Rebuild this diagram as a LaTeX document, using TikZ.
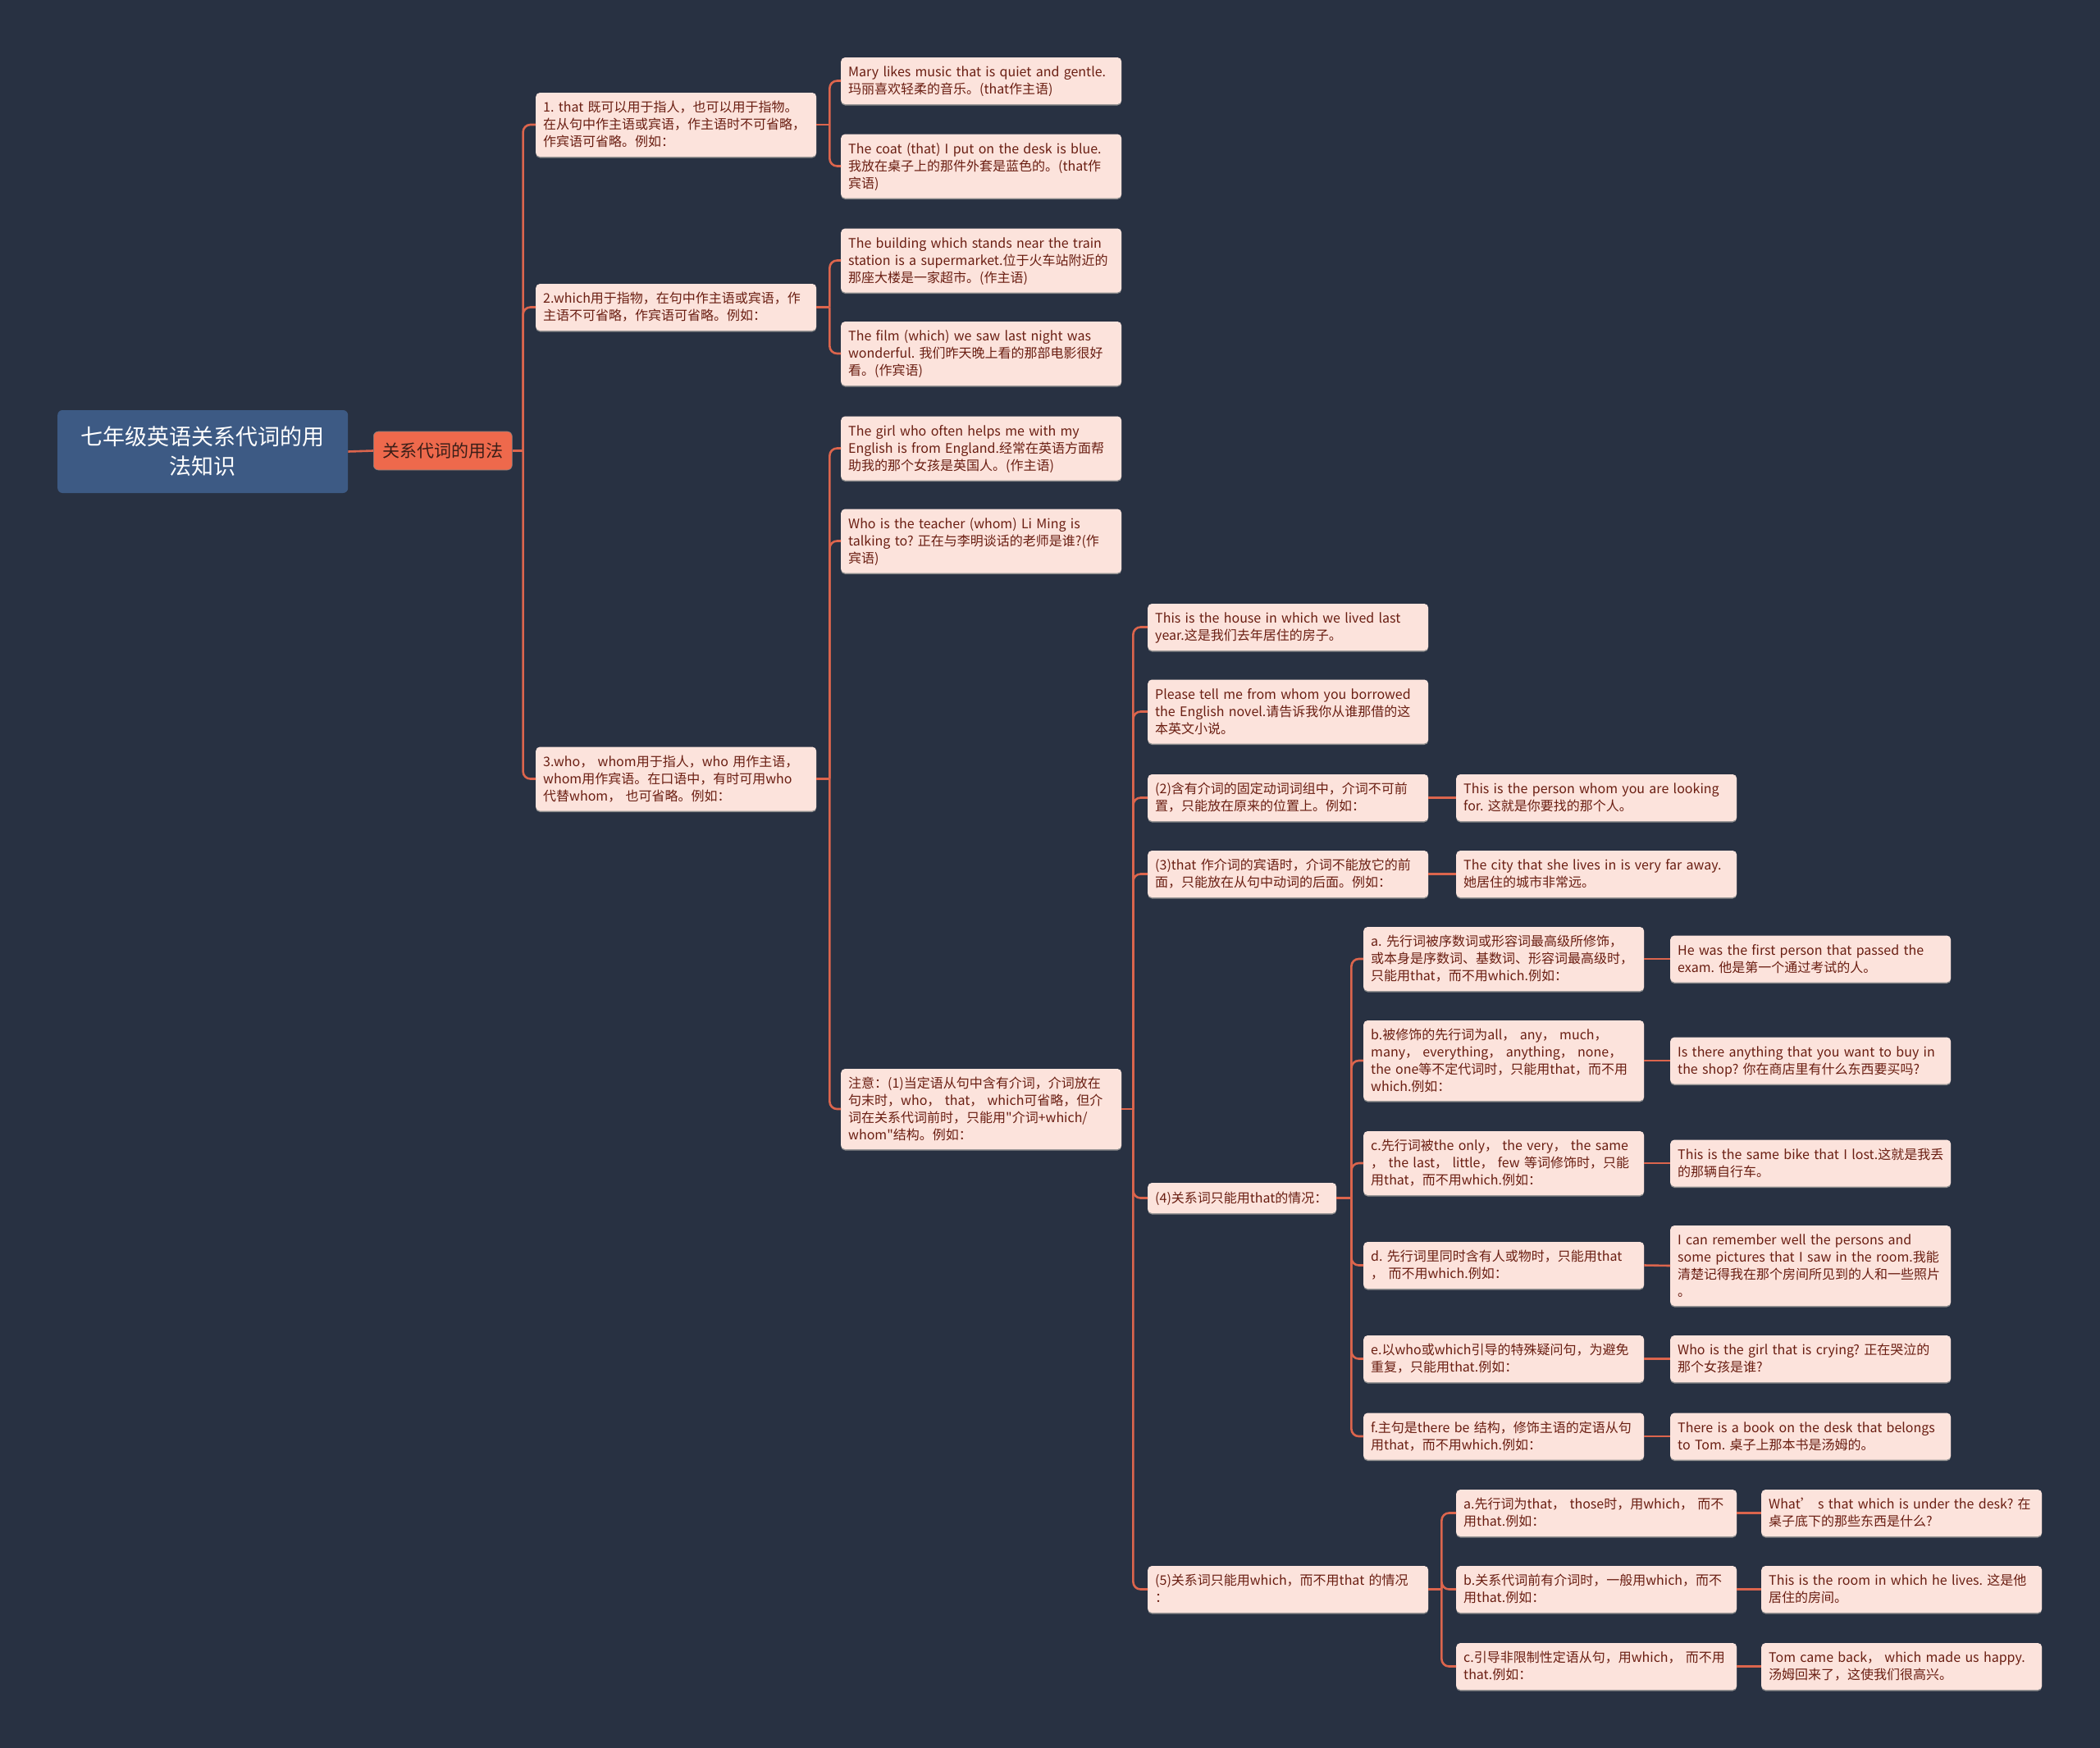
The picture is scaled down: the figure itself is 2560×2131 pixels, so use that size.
\documentclass[tikz,border=0pt]{standalone}
\usepackage{fontspec}
\setmainfont{Noto Sans CJK SC}[Ligatures=TeXOff]
\definecolor{bg}{HTML}{283142}
\definecolor{boxfill}{HTML}{FCE3DC}
\definecolor{boxtext}{HTML}{6A1E12}
\definecolor{conn}{HTML}{DC654D}
\definecolor{rootfill}{HTML}{3D5A84}
\definecolor{lonefill}{HTML}{EE694C}
\definecolor{lonetext}{HTML}{3A1E18}
\newcommand{\tb}[1]{\raisebox{-1.5pt}[\height][\depth]{\begin{tabular}{@{}l@{}}#1\end{tabular}}}
\newcommand{\sq}{\char"22\relax}
\frenchspacing
\tikzset{
  box/.style={fill=boxfill, rounded corners=5pt, text=boxtext, anchor=west,
    text width=324pt, inner xsep=9pt, inner ysep=0pt, align=left,
    font=\fontsize{16}{21}\selectfont\frenchspacing,
    preaction={fill=black!45, transform canvas={yshift=-1.5pt}}},
  rootbox/.style={fill=rootfill, rounded corners=6pt, text=white, anchor=west,
    minimum width=354pt, minimum height=101pt, align=center, inner sep=0pt,
    font=\fontsize{27}{36}\selectfont},
  lonebox/.style={fill=lonefill, rounded corners=6pt, text=lonetext, anchor=west,
    minimum width=169pt, minimum height=47pt, align=center, inner sep=0pt,
    font=\fontsize{21}{26}\selectfont, draw=black!50, line width=0.6pt},
  conn/.style={draw=conn, line width=2.6pt, rounded corners=9pt},
}
\begin{document}
\frenchspacing
\begin{tikzpicture}[x=1pt,y=-1pt]
\useasboundingbox (0,0) rectangle (2560,2131);
\fill[bg] (0,0) rectangle (2560,2131);

% root and level 1
\node[rootbox] (root) at (70,550.5) {七年级英语关系代词的用\\法知识};
\node[lonebox] (lone) at (455,549.5) {关系代词的用法};

% level 2
\node[box, minimum height=78pt] (n1) at (653,152) {\tb{1. that 既可以用于指人，也可以用于指物。\\在从句中作主语或宾语，作主语时不可省略，\\作宾语可省略。例如：}};
\node[box, minimum height=57pt] (n2) at (653,374.5) {\tb{2.which用于指物，在句中作主语或宾语，作\\主语不可省略，作宾语可省略。例如：}};
\node[box, minimum height=78pt] (n3) at (653,949.5) {\tb{3.who， whom用于指人，who 用作主语，\\whom用作宾语。在口语中，有时可用who\\代替whom， 也可省略。例如：}};

% level 3
\node[box, minimum height=57pt] (m1) at (1025,98.5) {\tb{Mary likes music that is quiet and gentle.\\玛丽喜欢轻柔的音乐。(that作主语)}};
\node[box, minimum height=78pt] (m2) at (1025,202.5) {\tb{The coat (that) I put on the desk is blue.\\我放在桌子上的那件外套是蓝色的。(that作\\宾语)}};
\node[box, minimum height=78pt] (m3) at (1025,317.5) {\tb{The building which stands near the train\\station is a supermarket.位于火车站附近的\\那座大楼是一家超市。(作主语)}};
\node[box, minimum height=78pt] (m4) at (1025,431) {\tb{The film (which) we saw last night was\\wonderful. 我们昨天晚上看的那部电影很好\\看。(作宾语)}};
\node[box, minimum height=78pt] (m5) at (1025,546.5) {\tb{The girl who often helps me with my\\English is from England.经常在英语方面帮\\助我的那个女孩是英国人。(作主语)}};
\node[box, minimum height=78pt] (m6) at (1025,659.5) {\tb{Who is the teacher (whom) Li Ming is\\talking to? 正在与李明谈话的老师是谁?(作\\宾语)}};
\node[box, minimum height=98pt] (m7) at (1025,1352) {\tb{注意：(1)当定语从句中含有介词，介词放在\\句末时，who， that， which可省略，但介\\词在关系代词前时，只能用\sq 介词+which/\\whom\sq 结构。例如：}};

% level 4
\node[box, minimum height=57pt] (p1) at (1399,764.5) {\tb{This is the house in which we lived last\\year.这是我们去年居住的房子。}};
\node[box, minimum height=78pt] (p2) at (1399,867.5) {\tb{Please tell me from whom you borrowed\\the English novel.请告诉我你从谁那借的这\\本英文小说。}};
\node[box, minimum height=57pt] (p3) at (1399,972.5) {\tb{(2)含有介词的固定动词词组中，介词不可前\\置，只能放在原来的位置上。例如：}};
\node[box, minimum height=57pt] (p4) at (1399,1065.5) {\tb{(3)that 作介词的宾语时，介词不能放它的前\\面，只能放在从句中动词的后面。例如：}};
\node[box, minimum height=37pt, text width=212pt] (p5) at (1399,1460.5) {\tb{(4)关系词只能用that的情况：}};
\node[box, minimum height=57pt] (p6) at (1399,1937.5) {\tb{(5)关系词只能用which，而不用that 的情况\\：}};

% level 5 for (2),(3)
\node[box, minimum height=57pt] (q3) at (1775,972.5) {\tb{This is the person whom you are looking\\for. 这就是你要找的那个人。}};
\node[box, minimum height=57pt] (q4) at (1775,1065.5) {\tb{The city that she lives in is very far away.\\她居住的城市非常远。}};

% (4) children
\node[box, minimum height=78pt] (r1) at (1662,1169) {\tb{a. 先行词被序数词或形容词最高级所修饰，\\或本身是序数词、基数词、形容词最高级时，\\只能用that，而不用which.例如：}};
\node[box, minimum height=98pt] (r2) at (1662,1293) {\tb{b.被修饰的先行词为all， any， much，\\many， everything， anything， none，\\the one等不定代词时，只能用that，而不用\\which.例如：}};
\node[box, minimum height=78pt] (r3) at (1662,1418) {\tb{c.先行词被the only， the very， the same\\， the last， little， few 等词修饰时，只能\\用that，而不用which.例如：}};
\node[box, minimum height=57pt] (r4) at (1662,1542.5) {\tb{d. 先行词里同时含有人或物时，只能用that\\， 而不用which.例如：}};
\node[box, minimum height=57pt] (r5) at (1662,1656.5) {\tb{e.以who或which引导的特殊疑问句，为避免\\重复，只能用that.例如：}};
\node[box, minimum height=57pt] (r6) at (1662,1751) {\tb{f.主句是there be 结构，修饰主语的定语从句\\用that，而不用which.例如：}};

\node[box, minimum height=57pt] (s1) at (2036,1169) {\tb{He was the first person that passed the\\exam. 他是第一个通过考试的人。}};
\node[box, minimum height=57pt] (s2) at (2036,1293) {\tb{Is there anything that you want to buy in\\the shop? 你在商店里有什么东西要买吗?}};
\node[box, minimum height=57pt] (s3) at (2036,1418) {\tb{This is the same bike that I lost.这就是我丢\\的那辆自行车。}};
\node[box, minimum height=98pt] (s4) at (2036,1543) {\tb{I can remember well the persons and\\some pictures that I saw in the room.我能\\清楚记得我在那个房间所见到的人和一些照片\\。}};
\node[box, minimum height=57pt] (s5) at (2036,1656.5) {\tb{Who is the girl that is crying? 正在哭泣的\\那个女孩是谁?}};
\node[box, minimum height=57pt] (s6) at (2036,1751) {\tb{There is a book on the desk that belongs\\to Tom. 桌子上那本书是汤姆的。}};

% (5) children
\node[box, minimum height=57pt] (t1) at (1775,1844.5) {\tb{a.先行词为that， those时，用which， 而不\\用that.例如：}};
\node[box, minimum height=57pt] (t2) at (1775,1937.5) {\tb{b.关系代词前有介词时，一般用which，而不\\用that.例如：}};
\node[box, minimum height=57pt] (t3) at (1775,2031.5) {\tb{c.引导非限制性定语从句，用which， 而不用\\that.例如：}};

\node[box, minimum height=57pt] (u1) at (2147,1844.5) {\tb{What’ s that which is under the desk? 在\\桌子底下的那些东西是什么?}};
\node[box, minimum height=57pt] (u2) at (2147,1937.5) {\tb{This is the room in which he lives. 这是他\\居住的房间。}};
\node[box, minimum height=57pt] (u3) at (2147,2031.5) {\tb{Tom came back， which made us happy.\\汤姆回来了，这使我们很高兴。}};

% connectors
\draw[conn] (root.east) -- (lone.west);

\coordinate (jl) at ([xshift=13pt]lone.east);
\draw[conn] (lone.east) -- (jl);
\foreach \c in {n1,n2,n3} \draw[conn] (jl) |- (\c.west);

\coordinate (j1) at ([xshift=16pt]n1.east);
\draw[conn] (n1.east) -- (j1);
\foreach \c in {m1,m2} \draw[conn] (j1) |- (\c.west);

\coordinate (j2) at ([xshift=16pt]n2.east);
\draw[conn] (n2.east) -- (j2);
\foreach \c in {m3,m4} \draw[conn] (j2) |- (\c.west);

\coordinate (j3) at ([xshift=16pt]n3.east);
\draw[conn] (n3.east) -- (j3);
\foreach \c in {m5,m6,m7} \draw[conn] (j3) |- (\c.west);

\coordinate (j7) at ([xshift=14pt]m7.east);
\draw[conn] (m7.east) -- (j7);
\foreach \c in {p1,p2,p3,p4,p5,p6} \draw[conn] (j7) |- (\c.west);

\draw[conn] (p3.east) -- (q3.west);
\draw[conn] (p4.east) -- (q4.west);

\coordinate (j5) at ([xshift=18pt]p5.east);
\draw[conn] (p5.east) -- (j5);
\foreach \c in {r1,r2,r3,r4,r5,r6} \draw[conn] (j5) |- (\c.west);

\draw[conn] (r1.east) -- (s1.west);
\draw[conn] (r2.east) -- (s2.west);
\draw[conn] (r3.east) -- (s3.west);
\draw[conn] (r4.east) -- (s4.west);
\draw[conn] (r5.east) -- (s5.west);
\draw[conn] (r6.east) -- (s6.west);

\coordinate (j6) at ([xshift=16pt]p6.east);
\draw[conn] (p6.east) -- (j6);
\foreach \c in {t1,t2,t3} \draw[conn] (j6) |- (\c.west);

\draw[conn] (t1.east) -- (u1.west);
\draw[conn] (t2.east) -- (u2.west);
\draw[conn] (t3.east) -- (u3.west);
\end{tikzpicture}
\end{document}
